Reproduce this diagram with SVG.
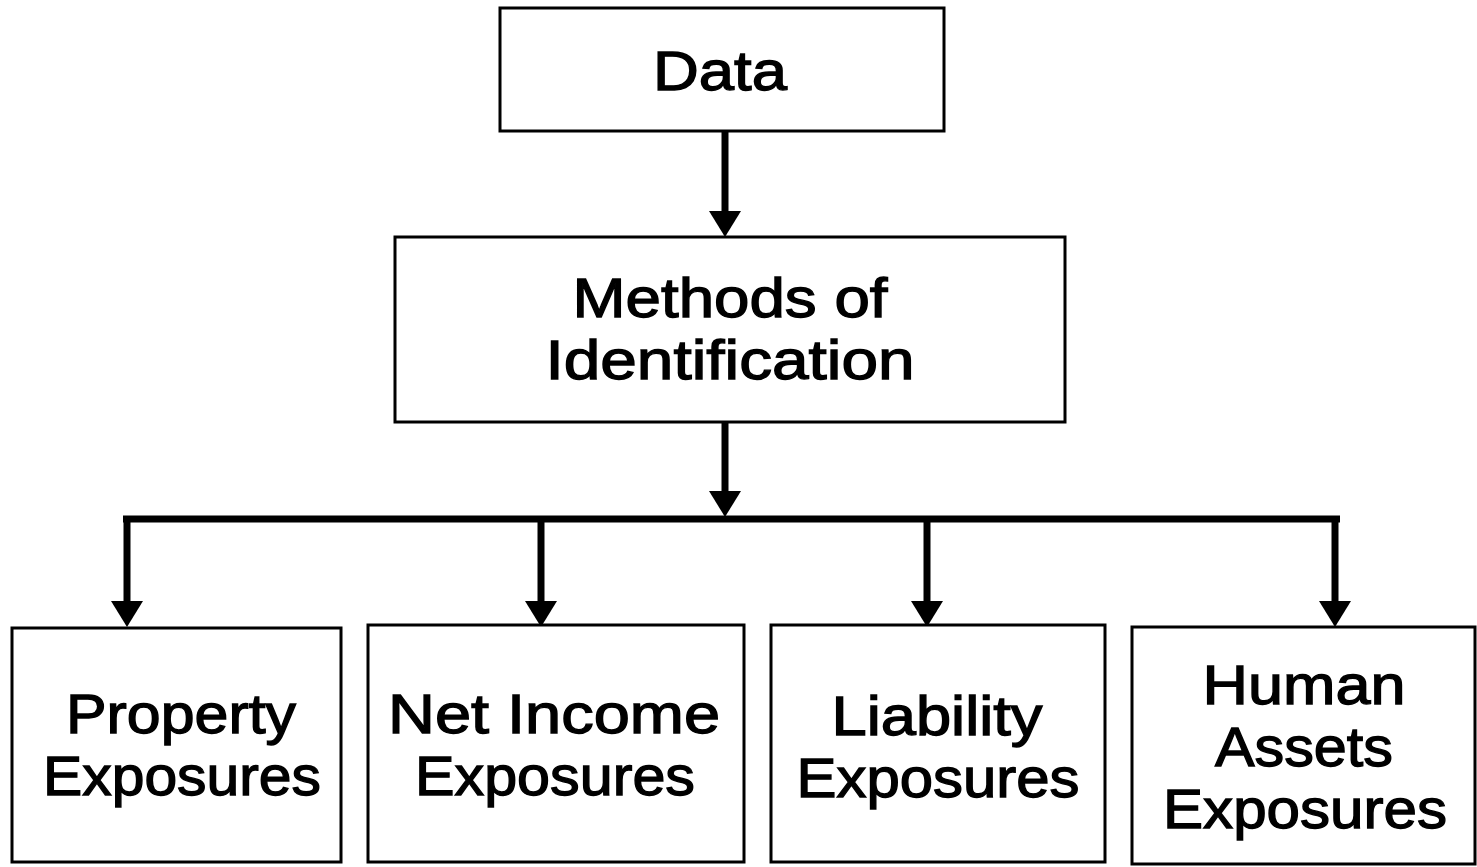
<svg xmlns="http://www.w3.org/2000/svg" width="1477" height="867" viewBox="0 0 1477 867">
  <style>
    .box { fill: #ffffff; stroke: #000000; stroke-width: 3; }
    .lbl { font-family: "Liberation Sans", Arial, sans-serif; font-size: 55px; fill: #000000; stroke: #000000; stroke-width: 1.3; text-anchor: middle; }
    .conn { fill: none; stroke: #000000; stroke-width: 7; }
  </style>
  <defs>
    <marker id="ah" markerUnits="userSpaceOnUse" markerWidth="26" markerHeight="32" viewBox="0 0 26 32" refX="0" refY="16" orient="auto">
      <path d="M0,0 L26,16 L0,32 Z" fill="#000000"/>
    </marker>
  </defs>
  <rect width="1477" height="867" fill="#ffffff"/>

  <g id="connectors">
    <path class="conn" d="M725,131 L725,211" marker-end="url(#ah)"/>
    <path class="conn" d="M725,422 L725,491" marker-end="url(#ah)"/>
    <path class="conn" d="M123,519 L1340,519"/>
    <path class="conn" d="M127,516 L127,601" marker-end="url(#ah)"/>
    <path class="conn" d="M541,519 L541,601" marker-end="url(#ah)"/>
    <path class="conn" d="M927,519 L927,601" marker-end="url(#ah)"/>
    <path class="conn" d="M1335,516 L1335,601" marker-end="url(#ah)"/>
  </g>

  <g id="node-data">
    <rect class="box" x="500" y="8" width="444" height="123"/>
    <text class="lbl" x="720" y="90" font-size="62" textLength="134" lengthAdjust="spacingAndGlyphs">Data</text>
  </g>

  <g id="node-methods">
    <rect class="box" x="395" y="237" width="670" height="185"/>
    <text class="lbl" x="730" y="317"><tspan x="730" y="317" textLength="315" lengthAdjust="spacingAndGlyphs">Methods of</tspan><tspan x="730" y="379" textLength="369" lengthAdjust="spacingAndGlyphs">Identification</tspan></text>
  </g>

  <g id="node-property">
    <rect class="box" x="12" y="628" width="329" height="234"/>
    <text class="lbl" x="181" y="733"><tspan x="181" y="733" textLength="230" lengthAdjust="spacingAndGlyphs">Property</tspan><tspan x="182" y="795" textLength="278" lengthAdjust="spacingAndGlyphs">Exposures</tspan></text>
  </g>

  <g id="node-netincome">
    <rect class="box" x="368" y="625" width="376" height="237"/>
    <text class="lbl" x="554" y="733"><tspan x="554" y="733" textLength="332" lengthAdjust="spacingAndGlyphs">Net Income</tspan><tspan x="555" y="795" textLength="280" lengthAdjust="spacingAndGlyphs">Exposures</tspan></text>
  </g>

  <g id="node-liability">
    <rect class="box" x="771" y="625" width="334" height="237"/>
    <text class="lbl" x="937" y="735"><tspan x="937" y="735" textLength="211" lengthAdjust="spacingAndGlyphs">Liability</tspan><tspan x="938" y="797" textLength="283" lengthAdjust="spacingAndGlyphs">Exposures</tspan></text>
  </g>

  <g id="node-human">
    <rect class="box" x="1132" y="627" width="343" height="237"/>
    <text class="lbl" x="1304" y="704"><tspan x="1304" y="704" textLength="203" lengthAdjust="spacingAndGlyphs">Human</tspan><tspan x="1304" y="766" textLength="178" lengthAdjust="spacingAndGlyphs">Assets</tspan><tspan x="1305" y="828" textLength="284" lengthAdjust="spacingAndGlyphs">Exposures</tspan></text>
  </g>
</svg>
